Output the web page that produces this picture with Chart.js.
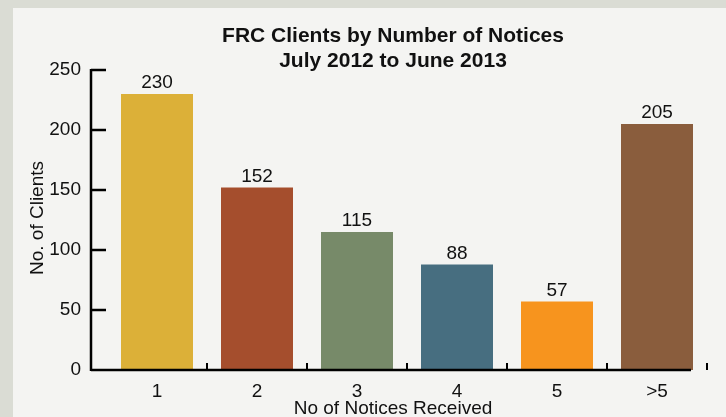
<!DOCTYPE html>
<html>
<head>
<meta charset="utf-8">
<script src="https://cdn.jsdelivr.net/npm/chart.js@4/dist/chart.umd.min.js"></script>
<style>
  html, body { margin: 0; padding: 0; background: #dadcd4; }
  #wrap { width: 726px; height: 417px; position: relative; }
</style>
</head>
<body>
<div id="wrap"><canvas id="chart" width="726" height="417"></canvas></div>
<script>
const categories = ["1", "2", "3", "4", "5", ">5"];
const clients = [230, 152, 115, 88, 57, 205];
const barColors = ["#dcb038", "#a54e2d", "#778a69", "#476e80", "#f7941e", "#8a5d3d"];
const titleLines = ["FRC Clients by Number of Notices", "July 2012 to June 2013"];
const xTitle = "No of Notices Received";
const yTitle = "No. of Clients";

const FONT = "'Liberation Sans', Arial, sans-serif";
const AXIS_SHIFT = 16; // axis lines sit left of the category area

const frame = {
  id: "frame",
  beforeDraw(chart) {
    const c = chart.ctx;
    c.save();
    c.fillStyle = "#dadcd4";
    c.fillRect(0, 0, chart.width, chart.height);
    c.fillStyle = "#f4f4f2";
    c.fillRect(13, 8, chart.width - 13, chart.height - 8);
    c.restore();
  },
  afterDraw(chart) {
    const c = chart.ctx;
    const a = chart.chartArea;
    const xs = chart.scales.x;
    const ys = chart.scales.y;
    const ax = a.left - AXIS_SHIFT;
    const y0 = ys.getPixelForValue(0);
    c.save();
    c.strokeStyle = "#000";
    c.lineWidth = 2.5;
    c.lineCap = "butt";

    // y axis + ticks
    c.beginPath();
    c.moveTo(ax, ys.getPixelForValue(250) - 1);
    c.lineTo(ax, y0 + 1);
    ys.ticks.forEach(t => {
      const py = ys.getPixelForValue(t.value);
      c.moveTo(ax, py);
      c.lineTo(ax + 15, py);
    });
    // x axis
    c.moveTo(ax, y0);
    c.lineTo(a.right - AXIS_SHIFT, y0);
    c.stroke();

    // x boundary ticks
    c.lineWidth = 2;
    c.beginPath();
    const step = xs.getPixelForValue(1) - xs.getPixelForValue(0);
    categories.forEach((_, i) => {
      const px = xs.getPixelForValue(i) + step / 2;
      c.moveTo(px, y0);
      c.lineTo(px, y0 - 7);
    });
    c.stroke();

    // value labels
    c.fillStyle = "#111";
    c.font = "19px " + FONT;
    c.textAlign = "center";
    c.textBaseline = "middle";
    chart.getDatasetMeta(0).data.forEach((bar, i) => {
      c.fillText(String(clients[i]), bar.x, bar.y - 11);
    });

    // titles
    const cx = (ax + a.right - AXIS_SHIFT) / 2 + 2;
    c.font = "bold 21px " + FONT;
    c.fillText(titleLines[0], cx, 36);
    c.fillText(titleLines[1], cx, 61);

    c.font = "19px " + FONT;
    c.fillText(xTitle, cx, 409);

    c.translate(38, (a.top + a.bottom) / 2 - 2);
    c.rotate(-Math.PI / 2);
    c.fillText(yTitle, 0, 0);
    c.restore();
  }
};

new Chart(document.getElementById("chart"), {
  type: "bar",
  data: {
    labels: categories,
    datasets: [{
      data: clients,
      backgroundColor: barColors,
      borderWidth: 0,
      barPercentage: 0.72,
      categoryPercentage: 1.0,
    }],
  },
  options: {
    responsive: false,
    animation: false,
    devicePixelRatio: 1,
    layout: { padding: { top: 70, right: 19, left: 0, bottom: 0 } },
    plugins: {
      legend: { display: false },
      title: { display: false },
      tooltip: { enabled: false },
    },
    scales: {
      x: {
        grid: { display: false },
        border: { display: false },
        ticks: { color: "#111", font: { family: FONT, size: 19 }, padding: 2, maxRotation: 0 },
        afterFit: (s) => { s.height = 47; },
      },
      y: {
        min: 0,
        max: 250,
        grid: { display: false },
        border: { display: false },
        ticks: { stepSize: 50, color: "#111", font: { family: FONT, size: 19 }, padding: 18 },
        afterFit: (s) => { s.width = 107; },
      },
    },
  },
  plugins: [frame],
});
</script>
</body>
</html>
